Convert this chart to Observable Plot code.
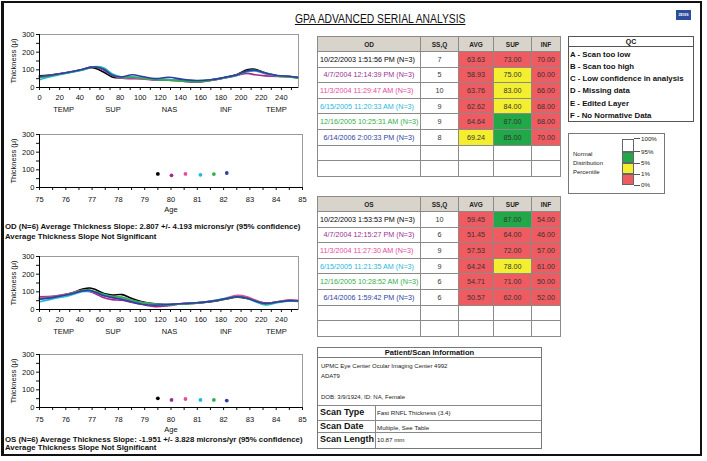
<!DOCTYPE html>
<html><head><meta charset="utf-8">
<script src="https://cdn.jsdelivr.net/npm/d3@7"></script>
<script src="https://cdn.jsdelivr.net/npm/@observablehq/plot@0.6"></script>
<style>
body{margin:0;background:#fff;font-family:Arial,"Liberation Sans",sans-serif;}
#page{position:relative;width:707px;height:461px;overflow:hidden;background:#fff;}
.cell{position:absolute;box-sizing:border-box;border:1px solid #8a8a8a;display:flex;align-items:center;justify-content:center;overflow:hidden;white-space:nowrap;font-size:7.2px;color:#333;}
.plot{position:absolute;left:0;}
</style></head><body><div id="page"></div>
<script>
// ---------- data ----------
const visitLabels = ["10/22/2003","4/7/2004","11/3/2004","6/15/2005","12/16/2005","6/14/2006"];
const visitColors = ["#000000","#9c2c94","#e84a9e","#1fb8dc","#33ad4a","#2f3ea2"];
const visitAges = [79.5, 80.02, 80.55, 81.12, 81.63, 82.12];

const tsnitPos = [0,15,30,42,50,56,64,72,82,92,102,115,128,142,156,170,184,196,206,214,224,236,248,256];
const regionLabels = ["TEMP","SUP","NAS","INF","TEMP"];
const regionPos = [24,73,129,185,235];

const odBlack   = [66,74,86,100,114,108,86,60,55,57,52,45,44,40,36,42,56,74,100,103,82,66,62,56];
const odMagenta = [57,72,86,100,112,116,98,68,52,50,48,42,42,35,30,40,54,68,80,72,66,62,60,55];
const odPink    = [60,73,87,102,113,115,100,70,56,55,50,44,45,38,34,42,56,72,92,95,78,66,62,58];
const odCyan    = [44,66,84,98,110,118,110,78,58,60,55,46,45,40,38,44,56,70,90,94,80,66,62,55];
const odGreen   = [55,70,86,100,113,117,104,72,56,58,52,44,42,36,32,40,56,70,92,98,84,66,60,54];
const odBlue    = [62,74,88,102,114,116,102,70,60,72,62,50,58,46,40,44,58,72,94,98,82,68,64,58];

const osBlack   = [62,72,90,114,122,112,90,82,84,62,44,32,28,32,36,44,58,70,62,50,36,42,50,48];
const osMagenta = [72,76,90,106,100,88,66,56,52,40,28,16,22,34,38,46,60,76,68,52,34,44,52,50];
const osPink    = [66,74,90,108,104,94,78,66,60,48,40,30,28,34,38,46,62,80,72,54,34,44,54,52];
const osCyan    = [44,62,80,100,104,98,86,74,70,52,38,30,28,32,38,48,62,74,64,44,26,38,48,46];
const osGreen   = [60,70,88,108,110,100,84,74,68,52,40,30,26,32,36,46,58,72,64,48,32,42,50,48];
const osBlue    = [58,70,86,104,108,96,78,68,56,42,30,24,28,34,38,46,60,72,64,48,34,42,50,48];

const odAgeThickness = [77,69,77,72,76,82];
const osAgeThickness = [52,43,48,43,43,39];

const odDates = ["10/22/2003 1:51:56 PM (N=3)","4/7/2004 12:14:39 PM (N=3)","11/3/2004 11:29:47 AM (N=3)","6/15/2005 11:20:33 AM (N=3)","12/16/2005 10:25:31 AM (N=3)","6/14/2006 2:00:33 PM (N=3)"];
const odSSQ = ["7","5","10","9","9","8"];
const odAvg = ["63.63","58.93","63.76","62.62","64.64","69.24"];
const odSup = ["73.00","75.00","83.00","84.00","87.00","85.00"];
const odInf = ["70.00","60.00","66.00","68.00","68.00","70.00"];
const odAvgCls = ["r","r","r","r","r","y"];
const odSupCls = ["r","y","y","y","g","g"];
const odInfCls = ["r","r","r","r","r","r"];

const osDates = ["10/22/2003 1:53:53 PM (N=3)","4/7/2004 12:15:27 PM (N=3)","11/3/2004 11:27:30 AM (N=3)","6/15/2005 11:21:35 AM (N=3)","12/16/2005 10:28:52 AM (N=3)","6/14/2006 1:59:42 PM (N=3)"];
const osSSQ = ["10","6","9","9","6","6"];
const osAvg = ["59.45","51.45","57.53","64.24","54.71","50.57"];
const osSup = ["87.00","64.00","72.00","78.00","71.00","62.00"];
const osInf = ["54.00","46.00","57.00","61.00","50.00","52.00"];
const osAvgCls = ["r","r","r","r","r","r"];
const osSupCls = ["g","r","r","y","r","r"];
const osInfCls = ["r","r","r","r","r","r"];

const tableHeaders = ["SS,Q","AVG","SUP","INF"];
const qcLines = ["A - Scan too low","B - Scan too high","C - Low confidence in analysis","D - Missing data","E - Edited Layer","F - No Normative Data"];
const pctLabels = ["100%","95%","5%","1%","0%"];
const pctColors = ["#ffffff","#22a848","#f4ee30","#ee5c62"];
const clsColor = {r:"#ee5c62", y:"#f4ee30", g:"#22a848"};

const odSlopeText = ["OD (N=6) Average Thickness Slope: 2.807 +/- 4.193 microns/yr (95% confidence)","Average Thickness Slope Not Significant"];
const osSlopeText = ["OS (N=6) Average Thickness Slope: -1.951 +/- 3.828 microns/yr (95% confidence)","Average Thickness Slope Not Significant"];

const patientLines = ["UPMC Eye Center Ocular Imaging Center 4992","ADAT9","","DOB: 3/9/1924, ID: NA, Female"];
const scanRows = [["Scan Type","Fast RNFL Thickness (3.4)"],["Scan Date","Multiple, See Table"],["Scan Length","10.87 mm"]];

// ---------- helpers ----------
const page = document.getElementById("page");
const FONT = "Arial, 'Liberation Sans', sans-serif";
function el(tag, css, text){const e=document.createElement(tag);e.style.cssText=css;if(text!==undefined)e.textContent=text;page.appendChild(e);return e;}

function yAxes(){
  return [
    Plot.axisY({ticks:[0,100,200,300], tickSize:3, tickPadding:2, label:"Thickness (μ)", labelAnchor:"center", labelArrow:"none", labelOffset:29}),
    Plot.axisY({ticks:[50,150,250], tickSize:3, tickFormat:()=>"", label:null})
  ];
}

function tsnitPlot(series){
  const data=[];
  series.forEach((s,i)=>s.forEach((v,j)=>data.push({pos:tsnitPos[j], thickness:v, visit:visitLabels[i]})));
  return Plot.plot({
    width:310, height:101, marginLeft:39, marginRight:12, marginTop:14, marginBottom:34,
    style:{fontFamily:FONT, fontSize:"7.5px", color:"#111", background:"none", overflow:"visible"},
    x:{domain:[0,257]}, y:{domain:[0,300]},
    color:{domain:visitLabels, range:visitColors},
    marks:[
      Plot.frame({stroke:"#9a9a9a"}),
      ...yAxes(),
      Plot.axisX({ticks:d3.range(0,241,20), tickSize:3, tickPadding:4, label:null}),
      Plot.axisX({ticks:d3.range(10,257,20), tickSize:3, tickFormat:()=>"", label:null}),
      Plot.axisX({ticks:regionPos, tickSize:0, tickPadding:19, tickFormat:d=>regionLabels[regionPos.indexOf(d)], label:null}),
      Plot.line(data,{x:"pos", y:"thickness", stroke:"visit", z:"visit", curve:"catmull-rom", strokeWidth:1.6}),
      Plot.ruleX([0],{stroke:"#000"}),
      Plot.ruleY([0],{stroke:"#000"})
    ]
  });
}

function agePlot(vals){
  const data=vals.map((v,i)=>({age:visitAges[i], thickness:v, visit:visitLabels[i]}));
  return Plot.plot({
    width:310, height:95, marginLeft:39, marginRight:8, marginTop:14, marginBottom:28,
    style:{fontFamily:FONT, fontSize:"7.5px", color:"#111", background:"none", overflow:"visible"},
    x:{domain:[75,85]}, y:{domain:[0,300]},
    color:{domain:visitLabels, range:visitColors},
    marks:[
      Plot.frame({stroke:"#9a9a9a"}),
      ...yAxes(),
      Plot.axisX({ticks:d3.range(75,85.01,1), tickSize:3, tickPadding:6, label:"Age", labelAnchor:"center", labelArrow:"none", labelOffset:24}),
      Plot.axisX({ticks:d3.range(75.5,85,1), tickSize:3, tickFormat:()=>"", label:null}),
      Plot.dot(data,{x:"age", y:"thickness", fill:"visit", r:1.9}),
      Plot.ruleX([75],{stroke:"#000"}),
      Plot.ruleY([0],{stroke:"#000"})
    ]
  });
}

function place(svg, top){svg.classList.add("plot"); svg.style.top=top+"px"; page.appendChild(svg);}

// ---------- page frame and title ----------
el("div","position:absolute;left:1px;top:1px;width:696px;height:451px;border:2px solid #111;border-left-width:3px;");
const title=el("div","position:absolute;left:280px;width:200px;top:9px;text-align:center;");
const tspan=document.createElement("span");
tspan.textContent="GPA ADVANCED SERIAL ANALYSIS";
tspan.style.cssText="display:inline-block;font:12px Arial,'Liberation Sans';text-decoration:underline;color:#111;transform:scaleX(0.86);transform-origin:center;white-space:nowrap;";
title.appendChild(tspan);
el("div","position:absolute;left:676px;top:10px;width:15px;height:10px;background:#2d4c9c;color:#fff;font:bold 3.5px Arial;display:flex;align-items:center;justify-content:center;","ZEISS");

// ---------- plots ----------
place(tsnitPlot([odBlack,odMagenta,odPink,odCyan,odGreen,odBlue]), 20);
place(agePlot(odAgeThickness), 120);
place(tsnitPlot([osBlack,osMagenta,osPink,osCyan,osGreen,osBlue]), 242);
place(agePlot(osAgeThickness), 340);

odSlopeText.forEach((t,i)=>el("div",`position:absolute;left:5px;top:${222+i*10}px;font:bold 7.8px ${FONT};color:#111;white-space:nowrap;`,t));
osSlopeText.forEach((t,i)=>el("div",`position:absolute;left:5px;top:${434.5+i*8.5}px;font:bold 7.8px ${FONT};color:#111;white-space:nowrap;line-height:9px;`,t));

// ---------- tables ----------
function cell(x,y,w,h,text,css){const c=el("div",`left:${x}px;top:${y}px;width:${w+1}px;height:${h+1}px;${css||""}`,text);c.className="cell";return c;}
function serialTable(top, eye, dates, ssq, avg, sup, inf, avgC, supC, infC){
  const colX=[317,420,458,493,531,560];
  const hh=15, rh=15.6;
  const hdr=[eye,...tableHeaders];
  hdr.forEach((h,c)=>cell(colX[c],top,colX[c+1]-colX[c],hh,h,"background:#d8d4cc;font-weight:bold;color:#222;font-size:6.5px;"));
  for(let r=0;r<8;r++){
    const y=top+hh+r*rh;
    const has=r<dates.length;
    const vals=has?[dates[r],ssq[r],avg[r],sup[r],inf[r]]:["","","","",""];
    const cls=has?[null,null,avgC[r],supC[r],infC[r]]:[null,null,null,null,null];
    vals.forEach((v,c)=>{
      let css=cls[c]?`background:${clsColor[cls[c]]};`:"";
      if(c===0&&has) css+=`color:${visitColors[r]};justify-content:center;`;
      if(c===0&&has&&v.length>26) css+="justify-content:flex-start;padding-left:2px;";
      cell(colX[c],y,colX[c+1]-colX[c],rh,v,css);
    });
  }
}
serialTable(36,"OD",odDates,odSSQ,odAvg,odSup,odInf,odAvgCls,odSupCls,odInfCls);
serialTable(196,"OS",osDates,osSSQ,osAvg,osSup,osInf,osAvgCls,osSupCls,osInfCls);

// ---------- QC box ----------
el("div","position:absolute;left:568px;top:36px;width:126px;height:86px;box-sizing:border-box;border:1px solid #555;");
el("div","position:absolute;left:568px;top:36px;width:126px;height:11px;box-sizing:border-box;border-bottom:1px solid #555;text-align:center;font:bold 7px Arial;line-height:11px;color:#111;","QC");
qcLines.forEach((t,i)=>el("div",`position:absolute;left:570px;top:${49.5+i*12.3}px;font:bold 7.8px ${FONT};color:#111;white-space:nowrap;`,t));

// ---------- percentile legend ----------
el("div","position:absolute;left:568px;top:133px;width:97px;height:61px;box-sizing:border-box;border:1px solid #777;");
["Normal","Distribution","Percentile"].forEach((t,i)=>el("div",`position:absolute;left:573px;top:${151+i*9.2}px;font:6px ${FONT};color:#222;`,t));
const barEdges=[138.5,151.7,163.3,174,185];
pctColors.forEach((c,i)=>el("div",`position:absolute;left:622px;top:${barEdges[i]}px;width:12px;height:${barEdges[i+1]-barEdges[i]}px;background:${c};box-sizing:border-box;border:1px solid #666;`));
pctLabels.forEach((t,i)=>{
  el("div",`position:absolute;left:634px;top:${barEdges[i]-0.5}px;width:6px;height:1px;background:#555;`);
  el("div",`position:absolute;left:641px;top:${barEdges[i]-4}px;font:6.2px ${FONT};color:#222;`,t);
});

// ---------- patient box ----------
el("div","position:absolute;left:317px;top:347px;width:225px;height:102px;box-sizing:border-box;border:1px solid #777;");
el("div","position:absolute;left:317px;top:347px;width:225px;height:11px;box-sizing:border-box;border-bottom:1px solid #777;text-align:center;font:bold 7.6px Arial;line-height:11px;color:#111;","Patient/Scan Information");
patientLines.forEach((t,i)=>el("div",`position:absolute;left:321px;top:${363+i*10.3}px;font:6px ${FONT};color:#222;`,t));
const scanY=[405,419.5,432,448];
scanRows.forEach((r,i)=>{
  el("div",`position:absolute;left:318px;top:${scanY[i]}px;width:223px;height:1px;background:#888;`);
  el("div",`position:absolute;left:320px;top:${scanY[i]+1.5}px;font:bold 9px ${FONT};color:#111;`,r[0]);
  el("div",`position:absolute;left:377px;top:${scanY[i]+4}px;font:6.2px ${FONT};color:#222;`,r[1]);
});
el("div","position:absolute;left:375px;top:405px;width:1px;height:43px;background:#888;");
</script></body></html>
